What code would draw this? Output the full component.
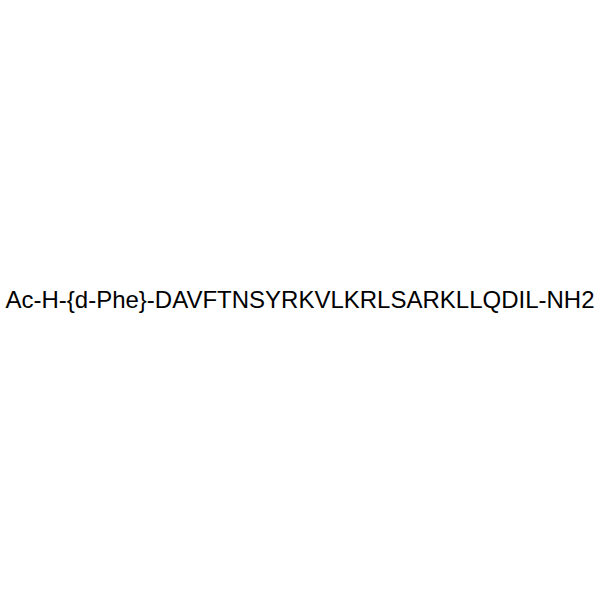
import React from 'react';

const label = 'Ac-H-{d-Phe}-DAVFTNSYRKVLKRLSARKLLQDIL-NH2';

const width = 600;
const height = 600;

const App: React.FC = () => {
  return (
    <svg
      width={width}
      height={height}
      style={{ position: 'absolute', left: 0, top: 0, background: '#fff' }}
    >
      <text
        x={width / 2}
        y={308}
        textAnchor="middle"
        fontFamily="'Liberation Sans', Arial, sans-serif"
        fontSize={24}
        fill="#000"
      >
        {label}
      </text>
    </svg>
  );
};

export default App;
